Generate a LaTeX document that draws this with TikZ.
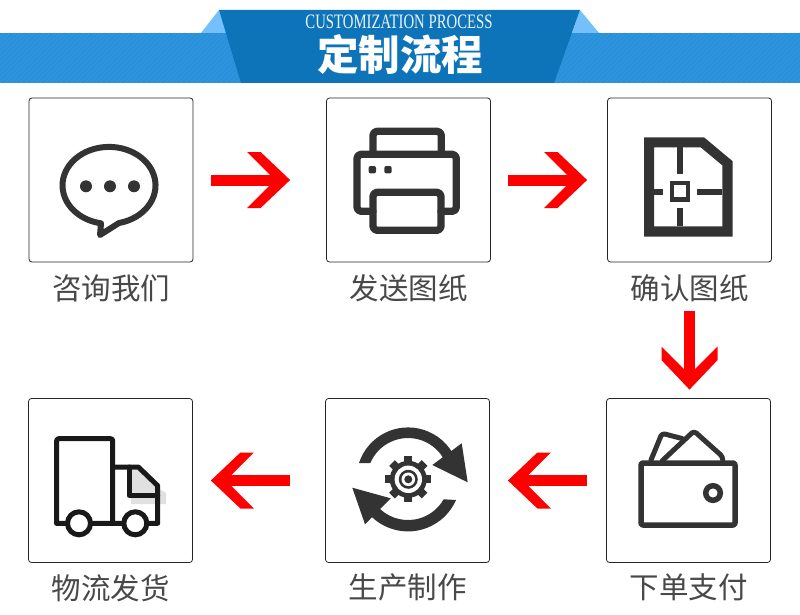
\documentclass[tikz,border=0pt]{standalone}
\usepackage{fontspec}
\usetikzlibrary{positioning,arrows.meta}
\newfontfamily\cjkfont{Noto Sans CJK SC}
\newfontfamily\headfont[FakeStretch=0.72]{Liberation Serif}
\definecolor{bandblue}{HTML}{2A90DA}
\definecolor{bandstripe}{HTML}{3197E0}
\definecolor{ribbonblue}{HTML}{0E74B9}
\definecolor{foldblue}{HTML}{74C0FB}
\definecolor{iconink}{HTML}{333333}
\definecolor{labelink}{HTML}{484848}
\pgfdeclarearrow{
  name=Chevron,
  setup code={\pgfarrowssettipend{0pt}\pgfarrowssetlineend{-13pt}},
  drawing code={
    \pgfpathmoveto{\pgfpoint{0pt}{0pt}}
    \pgfpathlineto{\pgfpoint{-29.5pt}{28pt}}
    \pgfpathlineto{\pgfpoint{-43pt}{28pt}}
    \pgfpathlineto{\pgfpoint{-15pt}{0pt}}
    \pgfpathlineto{\pgfpoint{-43pt}{-28pt}}
    \pgfpathlineto{\pgfpoint{-29.5pt}{-28pt}}
    \pgfpathclose
    \pgfusepathqfill
  }
}
\tikzset{
  card/.style={draw=black!85, line width=0.8pt, rounded corners=3pt, minimum size=164pt, inner sep=0pt},
  caption/.style={font=\cjkfont\fontsize{29.5}{30}\selectfont, text=labelink, inner sep=0pt},
  flow/.style={draw=red, line width=11pt, -{Chevron}},
  icon/.style={draw=iconink, line join=round, line cap=round},
}
\begin{document}
\begin{tikzpicture}[x=1pt, y=-1pt, node distance=12pt]
  \useasboundingbox (0,0) rectangle (800,615);

  % header band
  \fill[bandblue] (0,33) rectangle (800,83);
  \begin{scope}
    \clip (0,33) rectangle (800,83);
    \foreach \k in {-50,-45,...,800}
      \draw[bandstripe, line width=1pt] (\k,83) -- (\k+50,33);
  \end{scope}
  \fill[foldblue] (201,33) -- (219,10) -- (227,33) -- cycle;
  \fill[foldblue] (580,10) -- (599,33) -- (572,33) -- cycle;
  \fill[ribbonblue] (219,10) -- (580,10) -- (554,83) -- (241,83) -- cycle;
  \node[text=white!92!ribbonblue, font=\headfont\fontsize{20.5}{20}\selectfont, inner sep=0pt] (entitle) at (399,22) {CUSTOMIZATION PROCESS};
  \node[text=white, font=\cjkfont\bfseries\fontsize{41.5}{42}\selectfont, inner sep=0pt] (cntitle) at (400,54.5) {定制流程};

  % cards
  \node[card] (ask) at (111,180) {};
  \node[card] (send) at (408.5,180) {};
  \node[card] (confirm) at (689.5,180) {};
  \node[card] (pay) at (688.5,480.5) {};
  \node[card] (make) at (407.5,480.5) {};
  \node[card] (ship) at (110.5,480.5) {};

  \node[caption, below=12pt of ask] (asklabel) {咨询我们};
  \node[caption, below=12pt of send] (sendlabel) {发送图纸};
  \node[caption, below=12pt of confirm] (confirmlabel) {确认图纸};
  \node[caption, below=11pt of pay] (paylabel) {下单支付};
  \node[caption, below=11pt of make] (makelabel) {生产制作};
  \node[caption, below=11pt of ship] (shiplabel) {物流发货};

  % red arrows
  \draw[flow, shorten <=18pt, shorten >=36pt] (ask.east) -- (send.west);
  \draw[flow, shorten <=17pt, shorten >=20pt] (send.east) -- (confirm.west);
  \draw[flow, shorten <=49pt, shorten >=8.5pt] (confirm.south) -- (confirm.south |- pay.north);
  \draw[flow, shorten <=19pt, shorten >=18pt] (pay.west) -- (make.east);
  \draw[flow, shorten <=35pt, shorten >=18pt] (make.west) -- (ship.east);

  % speech bubble
  \draw[icon, line width=6pt] (119,223) arc[start angle=77.6, end angle=-260.1, x radius=46.5, y radius=38.5] -- (100,235) -- cycle;
  \foreach \k in {86,110,134}
    \fill[iconink] (\k,186.3) circle[radius=6];

  % printer
  \draw[icon, line width=7.3pt, rounded corners=4pt] (373,211.3) -- (357,211.3) -- (357,154.3) -- (456.3,154.3) -- (456.3,211.3) -- (441,211.3);
  \draw[icon, line width=7.3pt, rounded corners=4pt] (373,154.3) -- (373,131.3) -- (441.3,131.3) -- (441.3,154.3);
  \draw[icon, line width=7.3pt, rounded corners=4pt] (373,192.3) rectangle (441,230.3);
  \foreach \k in {372.3,388}
    \fill[iconink, rounded corners=2pt] (\k-3.7,166) rectangle (\k+3.7,173.4);

  % floor plan
  \fill[iconink, even odd rule] (644,137.3) -- (704,137.3) -- (732.7,161.3) -- (732.7,236.7) -- (644,236.7) -- cycle
    (654,147.3) -- (700.7,147.3) -- (722.3,165.3) -- (722.3,226.3) -- (654,226.3) -- cycle;
  \draw[iconink, line width=6pt] (680,147) -- (680,174) (680,208) -- (680,226) (654,192) -- (663.3,192) (696.7,192) -- (722,192);
  \draw[iconink, line width=4.4pt] (671.9,182.9) rectangle (687.9,199.4);

  % wallet
  \draw[icon, line width=5pt, rounded corners=3pt] (651,460) -- (662,433.3) -- (682,438.5);
  \draw[icon, line width=5pt, rounded corners=3pt] (662.3,460.7) -- (694,431) -- (722.7,456.7) -- (722.7,460);
  \draw[icon, line width=5.5pt, rounded corners=2pt] (641,463) rectangle (735,525);
  \draw[iconink, line width=5.5pt] (713,493) circle[radius=7.3];

  % gear and turning arrows
  \fill[iconink] (359,463) arc[start angle=198.1, end angle=335, radius=51.6] -- (445.2,461.7) arc[start angle=335, end angle=203, radius=41] -- cycle;
  \fill[iconink] (461.7,443.3) -- (467.7,482.3) -- (432.3,465) -- cycle;
  \fill[iconink] (456,500) arc[start angle=23.6, end angle=140, radius=52.4] -- (376.6,505.4) arc[start angle=140, end angle=29.6, radius=41] -- cycle;
  \fill[iconink] (352.3,487.7) -- (365,524.3) -- (390.7,498.3) -- cycle;
  \foreach \k in {0,45,...,315}
    \fill[iconink, rotate around={\k:(408.3,479.3)}] (404.3,456.3) rectangle (412.3,464);
  \fill[iconink] (408.3,479.3) circle[radius=18.5];
  \fill[white] (408.3,479.3) circle[radius=13.7];
  \fill[iconink] (408.3,479.3) circle[radius=9.5];
  \fill[white] (408.3,479.3) circle[radius=6.8];
  \fill[iconink] (408.3,479.3) circle[radius=4];

  % truck
  \fill[black!12] (131,498) -- (158,498) -- (158,488) -- (166,493) -- (166,504) -- (131,504) -- cycle;
  \fill[black!12] (131,470) -- (138,470) -- (157,488) -- (157,498) -- (131,498) -- cycle;
  \draw[icon, draw=black!90, line width=5pt, rounded corners=2pt] (56.7,523.3) -- (56.7,438.7) -- (112.7,438.7) -- (112.7,523.3);
  \draw[icon, draw=black!90, line width=5pt] (112.7,467) -- (138.3,467) -- (157.7,485.7) -- (157.7,523.3) -- (56.7,523.3);
  \draw[icon, draw=black!90, line width=5pt] (129,467) -- (129,495.3) -- (157.7,495.3);
  \foreach \k in {79,135.3}
    \draw[draw=black!90, fill=white, line width=5pt] (\k,523.3) circle[radius=11.5];
\end{tikzpicture}
\end{document}
